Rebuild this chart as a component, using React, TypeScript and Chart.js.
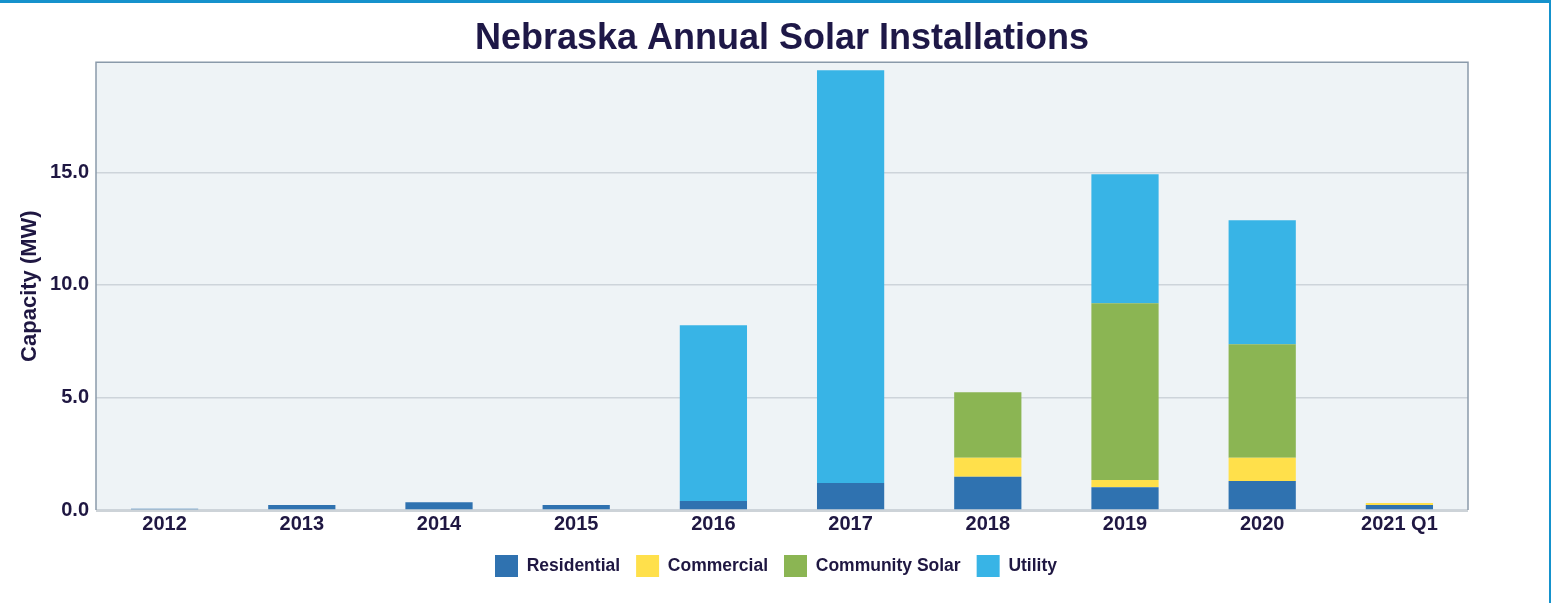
import React, { useEffect, useRef } from "react";
import { Chart, registerables } from "chart.js";

Chart.register(...registerables);

const categories = ["2012", "2013", "2014", "2015", "2016", "2017", "2018", "2019", "2020", "2021 Q1"];
const residential = [0.05, 0.22, 0.34, 0.22, 0.4, 1.2, 1.48, 1.01, 1.29, 0.22];
const commercial = [0, 0, 0, 0, 0, 0, 0.84, 0.32, 1.03, 0.09];
const communitySolar = [0, 0, 0, 0, 0, 0, 2.91, 7.86, 5.05, 0];
const utility = [0, 0, 0, 0, 7.81, 18.34, 0, 5.73, 5.51, 0];
const yTickValues = [0, 5, 10, 15];

const FONT = "'Liberation Sans', Arial, Helvetica, sans-serif";
const TEXT = "#1f1742";

const plotArea = {
  id: "plotArea",
  afterLayout(chart: any) {
    const l = chart.legend;
    if (l) {
      l.left -= 6;
      l.right -= 6;
    }
  },
  beforeDraw(chart: any) {
    const { ctx, chartArea: a } = chart;
    ctx.save();
    ctx.fillStyle = "#eef3f6";
    ctx.fillRect(a.left, a.top, a.right - a.left, a.bottom - a.top);
    ctx.restore();
  },
  afterDraw(chart: any) {
    const { ctx, chartArea: a } = chart;
    ctx.save();
    ctx.strokeStyle = "#8a9aaa";
    ctx.lineWidth = 1.5;
    ctx.beginPath();
    ctx.moveTo(a.left, a.bottom);
    ctx.lineTo(a.left, a.top);
    ctx.lineTo(a.right, a.top);
    ctx.lineTo(a.right, a.bottom);
    ctx.stroke();
    ctx.strokeStyle = "#cdd3d8";
    ctx.lineWidth = 2;
    ctx.beginPath();
    ctx.moveTo(a.left, a.bottom + 1);
    ctx.lineTo(a.right, a.bottom + 1);
    ctx.stroke();
    ctx.restore();
  },
};

export default function App() {
  const ref = useRef<HTMLCanvasElement | null>(null);
  useEffect(() => {
    if (!ref.current) return;
    const chart = new Chart(ref.current, {
      type: "bar",
      data: {
        labels: categories,
        datasets: [
          { label: "Residential", data: residential, backgroundColor: "#2f72b0" },
          { label: "Commercial", data: commercial, backgroundColor: "#ffe04b" },
          { label: "Community Solar", data: communitySolar, backgroundColor: "#8bb553" },
          { label: "Utility", data: utility, backgroundColor: "#38b4e6" },
        ],
      },
      options: {
        animation: false,
        responsive: false,
        maintainAspectRatio: false,
        datasets: { bar: { barPercentage: 0.49, categoryPercentage: 1.0 } },
        layout: { padding: { left: 0, right: 83, top: 0, bottom: 16 } },
        plugins: {
          title: {
            display: true,
            text: "Nebraska Annual Solar Installations",
            fullSize: false,
            color: "#1e1847",
            font: { family: FONT, size: 36, weight: "bold" },
            padding: { top: 17, bottom: 2 },
          },
          legend: {
            position: "bottom",
            fullSize: false,
            labels: {
              color: TEXT,
              font: { family: FONT, size: 17.5, weight: "bold" },
              boxWidth: 23,
              boxHeight: 22,
              padding: 16,
            },
          },
          tooltip: { enabled: false },
        },
        scales: {
          x: {
            stacked: true,
            grid: { display: false, drawTicks: false },
            border: { display: false },
            ticks: { color: TEXT, font: { family: FONT, size: 20, weight: "bold" }, padding: 2 },
            afterFit(scale: any) {
              scale.height = 29;
            },
          },
          y: {
            stacked: true,
            min: 0,
            max: 19.9,
            grid: { color: "#cdd4da", lineWidth: 1.5, drawTicks: false },
            border: { display: false },
            afterBuildTicks(scale: any) {
              scale.ticks = yTickValues.map((v) => ({ value: v }));
            },
            ticks: {
              color: TEXT,
              font: { family: FONT, size: 20, weight: "bold" },
              padding: 7,
              callback: (v: any) => Number(v).toFixed(1),
            },
            title: {
              display: true,
              text: "Capacity (MW)",
              color: TEXT,
              font: { family: FONT, size: 22, weight: "bold" },
              padding: { top: 17, bottom: 0 },
            },
            afterFit(scale: any) {
              scale.width = 96;
            },
          },
        },
      },
      plugins: [plotArea],
    } as any);
    return () => chart.destroy();
  }, []);

  return (
    <div style={{ position: "absolute", left: 0, top: 0, width: 1551, height: 603, background: "#fff" }}>
      <canvas ref={ref} width={1551} height={603} style={{ display: "block" }} />
      <div
        style={{
          position: "absolute",
          left: 0,
          top: 0,
          width: 1551,
          height: 603,
          boxSizing: "border-box",
          borderTop: "3px solid #1592cc",
          borderRight: "2px solid #1592cc",
          pointerEvents: "none",
        }}
      />
    </div>
  );
}
